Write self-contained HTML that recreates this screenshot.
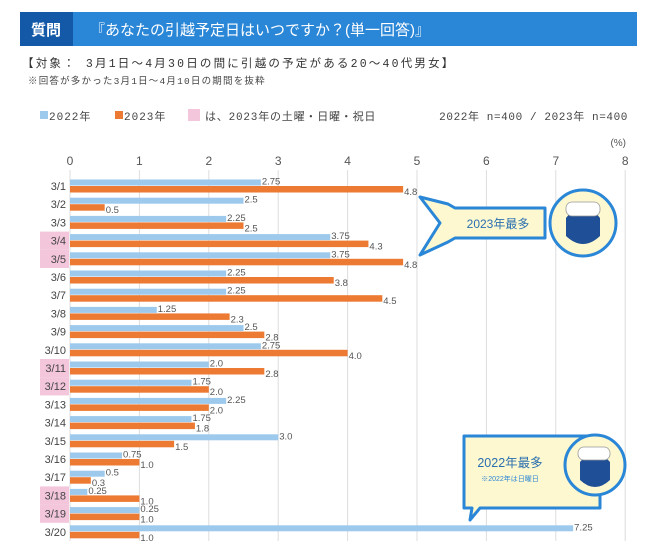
<!DOCTYPE html>
<html><head><meta charset="utf-8"><style>
body{margin:0;width:650px;height:541px;background:#fff;overflow:hidden;font-family:"Liberation Sans","Noto Sans CJK JP",sans-serif;}
</style></head><body>
<svg width="650" height="541" xmlns="http://www.w3.org/2000/svg" font-family="Liberation Sans, Noto Sans CJK JP, sans-serif">
<rect x="20" y="12" width="617" height="34" fill="#2a86d6"/>
<rect x="20" y="12" width="53" height="34" fill="#1459a8"/>
<text x="46" y="35" font-size="15" font-weight="bold" fill="#fff" text-anchor="middle">質問</text>
<text x="90" y="35" font-size="15" fill="#fff">『あなたの引越予定日はいつですか？(単一回答)』</text>
<text x="22" y="67" font-size="11.5" fill="#333" letter-spacing="2.2" font-family="Liberation Mono, Noto Sans CJK JP, monospace">【対象： 3月1日～4月30日の間に引越の予定がある20～40代男女】</text>
<text x="28" y="84" font-size="9.5" fill="#444" letter-spacing="1.2" font-family="Liberation Mono, Noto Sans CJK JP, monospace">※回答が多かった3月1日～4月10日の期間を抜粋</text>
<g font-family="Liberation Mono, Noto Sans CJK JP, monospace">
<rect x="40" y="111" width="8" height="8" fill="#9dc9ec"/>
<text x="49" y="120" font-size="11" fill="#444" letter-spacing="1">2022年</text>
<rect x="115" y="111" width="8" height="8" fill="#ec7a32"/>
<text x="124" y="120" font-size="11" fill="#444" letter-spacing="1">2023年</text>
<rect x="188" y="109" width="12" height="12" fill="#f3c6dc"/>
<text x="205" y="120" font-size="11" fill="#444" letter-spacing="0.8">は、2023年の土曜・日曜・祝日</text>
<text x="628" y="120" font-size="11" fill="#444" text-anchor="end" letter-spacing="0.6">2022年 n=400 / 2023年 n=400</text>
</g>
<text x="626" y="146" font-size="10" fill="#555" text-anchor="end">(%)</text>
<g id="grid"></g><g id="bars"></g>
<g>
<path d="M455 208 L545 208 L545 238 L455 238 L448 242 L420 255 L440 223 L420 197 L448 204 Z" fill="#fdf8d0" stroke="#2a86d6" stroke-width="3" stroke-linejoin="round"/>
<text x="498" y="228" font-size="12" fill="#2a6fb0" text-anchor="middle">2023年最多</text>
<circle cx="583" cy="223" r="33" fill="#fdf8d0" stroke="#2a86d6" stroke-width="3"/>
<path d="M566 218 Q583 196 600 218 L600 236 Q583 252 566 236 Z" fill="#1f4f96"/>
<rect x="566" y="202" width="34" height="14" rx="6" fill="#fff" stroke="#999" stroke-width="0.8"/>
</g>
<g>
<path d="M464 436 L600 436 L600 508 L480 508 L470 520 L472 508 L464 508 Z" fill="#fdf8d0" stroke="#2a86d6" stroke-width="3" stroke-linejoin="round"/>
<text x="510" y="467" font-size="12.5" fill="#2a6fb0" text-anchor="middle">2022年最多</text>
<text x="510" y="481" font-size="7" fill="#2a86d6" text-anchor="middle">※2022年は日曜日</text>
<circle cx="595" cy="465" r="30" fill="#fdf8d0" stroke="#2a86d6" stroke-width="3"/>
<path d="M580 462 Q595 445 610 462 L610 480 Q595 494 580 480 Z" fill="#1f4f96"/>
<rect x="578" y="447" width="32" height="13" rx="6" fill="#fff" stroke="#999" stroke-width="0.8"/>
</g>
</svg>
<script>
const categories=["3/1","3/2","3/3","3/4","3/5","3/6","3/7","3/8","3/9","3/10","3/11","3/12","3/13","3/14","3/15","3/16","3/17","3/18","3/19","3/20"];
const values2022=[2.75,2.5,2.25,3.75,3.75,2.25,2.25,1.25,2.5,2.75,2.0,1.75,2.25,1.75,3.0,0.75,0.5,0.25,1.0,7.25];
const values2023=[4.8,0.5,2.5,4.3,4.8,3.8,4.5,2.3,2.8,4.0,2.8,2.0,2.0,1.8,1.5,1.0,0.3,1.0,1.0,1.0];
const labels2022=["2.75","2.5","2.25","3.75","3.75","2.25","2.25","1.25","2.5","2.75","2.0","1.75","2.25","1.75","3.0","0.75","0.5","0.25","0.25","7.25"];
const labels2023=["4.8","0.5","2.5","4.3","4.8","3.8","4.5","2.3","2.8","4.0","2.8","2.0","2.0","1.8","1.5","1.0","0.3","1.0","1.0","1.0"];
const holidays=["3/4","3/5","3/11","3/12","3/18","3/19"];
const ticks=[0,1,2,3,4,5,6,7,8];
const NS="http://www.w3.org/2000/svg";
const x=v=>70+v*69.4;
const y=i=>186+i*18.2;
function mk(t,a,p){const e=document.createElementNS(NS,t);for(const k in a)e.setAttribute(k,a[k]);p.appendChild(e);return e;}
const grid=document.getElementById('grid'),bars=document.getElementById('bars');
categories.forEach((c,i)=>{if(holidays.includes(c)){const r=mk('rect',{x:40,y:y(i)-9,width:29,height:18.2,fill:'#f3c6dc'},grid);

}});
ticks.forEach(t=>{const l=mk('line',{x1:x(t),x2:x(t),y1:170,y2:541,stroke:'#ddd','stroke-width':1},grid);


const tx=mk('text',{x:x(t),y:165,'font-size':12,fill:'#555','text-anchor':'middle'},grid);tx.textContent=t;

});
categories.forEach((c,i)=>{const cy=y(i);
const lb=mk('text',{x:66,y:cy+4,'font-size':11,fill:'#444','text-anchor':'end'},bars);lb.textContent=c;


const b1=mk('rect',{x:x(0),y:cy-6.5,width:x(values2022[i])-x(0),height:6,fill:'#9dc9ec'},bars);


const b2=mk('rect',{x:x(0),y:cy,width:x(values2023[i])-x(0),height:6.5,fill:'#ec7a32'},bars);


const t1=mk('text',{x:x(values2022[i])+1,y:cy-1.5,'font-size':9.5,fill:'#555'},bars);t1.textContent=labels2022[i];


const t2=mk('text',{x:x(values2023[i])+1,y:cy+9,'font-size':9.5,fill:'#555'},bars);t2.textContent=labels2023[i];

});
</script>
</body></html>
